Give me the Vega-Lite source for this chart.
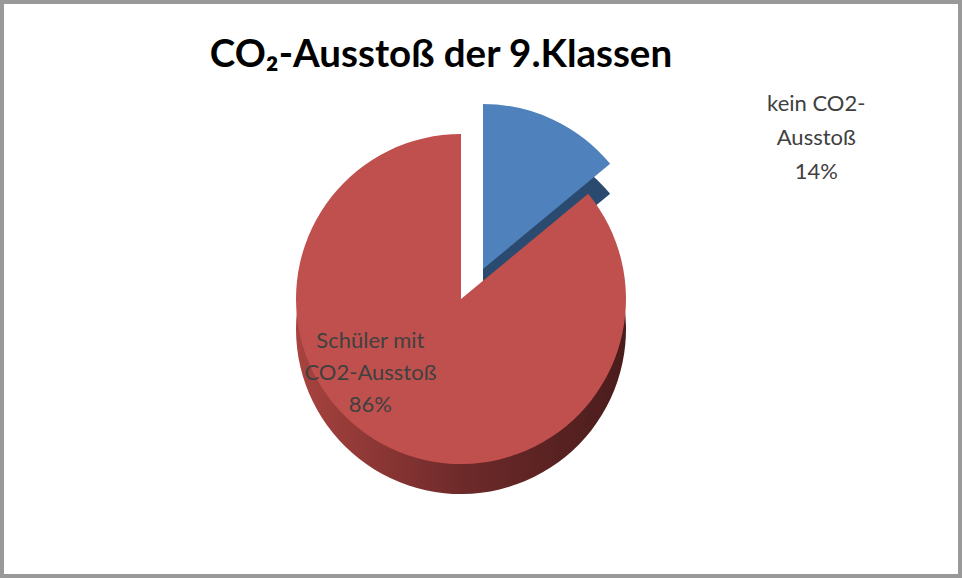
{
  "$schema": "https://vega.github.io/schema/vega-lite/v6.json",
  "width": 962,
  "height": 578,
  "autosize": {"type": "fit", "contains": "padding"},
  "padding": 0,
  "background": "white",
  "config": {"view": {"stroke": null}},
  "title": {
    "text": "CO₂-Ausstoß der 9.Klassen",
    "anchor": "middle",
    "font": "Lato",
    "fontSize": 38.5,
    "fontWeight": "bold",
    "color": "#000000",
    "offset": -75,
    "dx": -40
  },
  "data": {
    "values": [
      {"Gruppe": "kein CO2-Ausstoß", "Anteil": 14, "Reihenfolge": 1, "Beschriftung": "kein CO2-\nAusstoß\n14%"},
      {"Gruppe": "Schüler mit CO2-Ausstoß", "Anteil": 86, "Reihenfolge": 2, "Beschriftung": "Schüler mit\nCO2-Ausstoß\n86%"}
    ]
  },
  "layer": [
    {
      "data": {"values": [{}]},
      "mark": {"type": "rect", "fill": null, "stroke": "#999999", "strokeWidth": 4}
    },
    {
      "transform": [
        {"stack": "Anteil", "groupby": [], "sort": [{"field": "Reihenfolge"}], "as": ["a0", "a1"]},
        {"filter": "datum.Reihenfolge == 1"}
      ],
      "mark": {"type": "arc", "outerRadius": 165, "fill": "#2b4a70", "xOffset": 2, "yOffset": 10},
      "encoding": {
        "theta": {"field": "a0", "type": "quantitative", "scale": {"domain": [0, 100]}},
        "theta2": {"field": "a1"}
      }
    },
    {
      "transform": [
        {"stack": "Anteil", "groupby": [], "sort": [{"field": "Reihenfolge"}], "as": ["a0", "a1"]},
        {"filter": "datum.Reihenfolge == 1"}
      ],
      "mark": {"type": "arc", "outerRadius": 165, "fill": "#4f81bd", "xOffset": 2, "yOffset": -20},
      "encoding": {
        "theta": {"field": "a0", "type": "quantitative", "scale": {"domain": [0, 100]}},
        "theta2": {"field": "a1"}
      }
    },
    {
      "transform": [
        {"stack": "Anteil", "groupby": [], "sort": [{"field": "Reihenfolge"}], "as": ["a0", "a1"]},
        {"filter": "datum.Reihenfolge == 2"}
      ],
      "mark": {
        "type": "arc",
        "outerRadius": 165,
        "xOffset": -20,
        "yOffset": 40,
        "fill": {
          "gradient": "linear",
          "x1": 0, "x2": 1, "y1": 0, "y2": 0,
          "stops": [
            {"offset": 0, "color": "#a8433f"},
            {"offset": 0.5, "color": "#6e2a2a"},
            {"offset": 1, "color": "#4a1c1c"}
          ]
        }
      },
      "encoding": {
        "theta": {"field": "a0", "type": "quantitative", "scale": {"domain": [0, 100]}},
        "theta2": {"field": "a1"}
      }
    },
    {
      "transform": [
        {"stack": "Anteil", "groupby": [], "sort": [{"field": "Reihenfolge"}], "as": ["a0", "a1"]},
        {"filter": "datum.Reihenfolge == 2"}
      ],
      "mark": {"type": "arc", "outerRadius": 165, "fill": "#c0504d", "xOffset": -20, "yOffset": 10},
      "encoding": {
        "theta": {"field": "a0", "type": "quantitative", "scale": {"domain": [0, 100]}},
        "theta2": {"field": "a1"}
      }
    },
    {
      "mark": {"type": "text", "radius": 165, "dx": 265, "dy": -36, "font": "Lato", "fontSize": 22, "color": "#404040", "lineBreak": "\n", "lineHeight": 34, "align": "center", "baseline": "middle"},
      "encoding": {
        "theta": {"field": "Anteil", "type": "quantitative", "stack": true},
        "order": {"field": "Reihenfolge"},
        "text": {"condition": {"test": "datum.Reihenfolge == 1", "field": "Beschriftung"}, "value": ""}
      }
    },
    {
      "mark": {"type": "text", "radius": 100, "dx": -68, "dy": -38, "font": "Lato", "fontSize": 22, "color": "#404040", "lineBreak": "\n", "lineHeight": 32, "align": "center", "baseline": "middle"},
      "encoding": {
        "theta": {"field": "Anteil", "type": "quantitative", "stack": true},
        "order": {"field": "Reihenfolge"},
        "text": {"condition": {"test": "datum.Reihenfolge == 2", "field": "Beschriftung"}, "value": ""}
      }
    }
  ]
}
